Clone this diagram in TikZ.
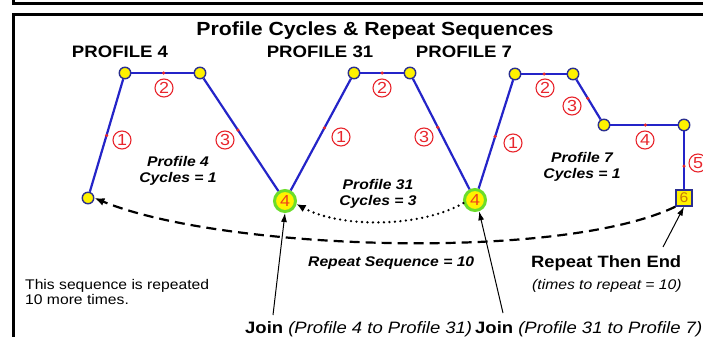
\documentclass[tikz,border=0pt]{standalone}
\usepackage{fontspec}
\setmainfont[FakeStretch=1.12]{Liberation Sans}
\usetikzlibrary{arrows.meta}
\definecolor{lineblue}{HTML}{2424C8}
\definecolor{rimblue}{HTML}{2B2F8F}
\definecolor{dotyellow}{HTML}{FFF200}
\definecolor{numred}{HTML}{E8262D}
\definecolor{ringgreen}{HTML}{6BDD2A}
\definecolor{fourred}{HTML}{F0401A}
\definecolor{sixorange}{HTML}{C8780A}
\newcommand{\fs}[2]{\fontsize{#1}{#2}\selectfont}

\begin{document}
\begin{tikzpicture}[x=1pt,y=-1pt]
                        \tikzstyle{boxline}=[line width=3pt]
                        \tikzstyle{hdr}=[font=\bfseries\fs{16.6}{19},inner sep=0pt]
                        \tikzstyle{ydot}=[circle,draw=rimblue,fill=dotyellow,line width=1.4pt,minimum size=11.5pt,inner sep=0pt]
                        \tikzstyle{joinnode}=[circle,draw=ringgreen,fill=dotyellow,line width=3pt,minimum size=21pt,inner sep=0pt,text=fourred,font=\fs{16}{18}]
                        \tikzstyle{endbox}=[rectangle,draw=rimblue,fill=dotyellow,line width=1.4pt,minimum size=16pt,inner sep=0pt,text=sixorange,font=\fs{14}{16}]
                        \tikzstyle{seg}=[draw=lineblue,line width=2.2pt]
                        \tikzstyle{cnum}=[circle,draw=numred,line width=1.1pt,text=numred,minimum size=18pt,inner sep=0pt,font=\fs{16}{18}]
                        \tikzstyle{redtick}=[circle,fill=numred,minimum size=3.5pt,inner sep=0pt]
                        \tikzstyle{cyc}=[align=center,font=\bfseries\itshape\fs{14}{16},inner sep=0pt]
                        \tikzstyle{ptr}=[line width=1pt,-{Latex[length=9pt,width=6pt]}]
                        \useasboundingbox (0,0) rectangle (703,337);
                        \draw[boxline] (703,4) -- (13.5,4) -- (13.5,0);
                        \draw[boxline] (703,15) -- (13.5,15) -- (13.5,337);
                        \node[hdr,font=\bfseries\fs{19}{22},anchor=base] (title) at (375,36) {Profile Cycles \& Repeat Sequences};
                        \node[hdr,anchor=base] (h4) at (120,57) {PROFILE 4};
                        \node[hdr,anchor=base] (h31) at (320,57) {PROFILE 31};
                        \node[hdr,anchor=base] (h7) at (464,57) {PROFILE 7};
                        \node[ydot] (a0) at (88,198) {};
                        \node[ydot] (a1) at (125,73) {};
                        \node[ydot] (a2) at (200,73) {};
                        \node[joinnode] (j1) at (285,201) {4};
                        \node[ydot] (b1) at (354,73) {};
                        \node[ydot] (b2) at (410,73) {};
                        \node[joinnode] (j2) at (475,200) {4};
                        \node[ydot] (c1) at (515,74) {};
                        \node[ydot] (c2) at (573,74) {};
                        \node[ydot] (c3) at (604,125) {};
                        \node[ydot] (c4) at (684,125) {};
                        \node[endbox] (e6) at (684,198) {6};
                        \draw[seg] (a0) -- node[redtick,pos=.5] {} (a1);
                        \draw[seg] (a1) -- node[redtick,pos=.52] {} (a2);
                        \draw[seg] (a2) -- node[redtick,pos=.46] {} (j1);
                        \draw[seg] (j1) -- node[redtick,pos=.56] {} (b1);
                        \draw[seg] (b1) -- node[redtick,pos=.5] {} (b2);
                        \draw[seg] (b2) -- node[redtick,pos=.44] {} (j2);
                        \draw[seg] (j2) -- node[redtick,pos=.48] {} (c1);
                        \draw[seg] (c1) -- node[redtick,pos=.5] {} (c2);
                        \draw[seg] (c2) -- node[redtick,pos=.47] {} (c3);
                        \draw[seg] (c3) -- node[redtick,pos=.52] {} (c4);
                        \draw[seg] (c4) -- node[redtick,pos=.6] {} (e6);
                        \node[cnum] (n41) at (122,140) {1};
                        \node[cnum] (n42) at (164,88) {2};
                        \node[cnum] (n43) at (225,140) {3};
                        \node[cnum] (n311) at (341,137) {1};
                        \node[cnum] (n312) at (382,88) {2};
                        \node[cnum] (n313) at (424,137) {3};
                        \node[cnum] (n71) at (513,143) {1};
                        \node[cnum] (n72) at (545,88) {2};
                        \node[cnum] (n73) at (572,106) {3};
                        \node[cnum] (n74) at (645,140) {4};
                        \node[cnum] (n75) at (698,163) {5};
                        \node[cyc] (cy4) at (178,171) {Profile 4\\Cycles = 1};
                        \node[cyc] (cy31) at (378,194) {Profile 31\\Cycles = 3};
                        \node[cyc] (cy7) at (582,167) {Profile 7\\Cycles = 1};
                        \draw[line width=2.2pt,dash pattern=on 10pt off 6pt,-{Latex[length=10pt,width=8pt]}] (e6.south west) .. controls (560,262) and (220,250) .. (a0.east);
                        \draw[line width=2.6pt,line cap=round,dash pattern=on 0pt off 5.5pt,-{Latex[length=9pt,width=8pt]}] (j2.195) .. controls (420,228) and (340,228) .. (j1.-15);
                        \node[anchor=base west,font=\bfseries\itshape\fs{14}{16},inner sep=0pt] (rs) at (308,266) {Repeat Sequence = 10};
                        \node[anchor=base west,font=\bfseries\fs{16.4}{19},inner sep=0pt] (rte) at (531,267) {Repeat Then End};
                        \node[anchor=base west,font=\itshape\fs{14}{16},inner sep=0pt] (rtn) at (532,289) {(times to repeat = 10)};
                        \node[anchor=west,align=left,font=\fs{14}{15},inner sep=0pt] (note) at (25,292) {This sequence is repeated\\10 more times.};
                        \node[anchor=base west,font=\fs{16.5}{19},inner sep=0pt] (jt1) at (245,333) {\textbf{Join} \textit{(Profile 4 to Profile 31)}};
                        \node[anchor=base west,font=\fs{16.5}{19},inner sep=0pt] (jt2) at (475,333) {\textbf{Join} \textit{(Profile 31 to Profile 7)}};
                        \coordinate (jf1) at (273,315);
                        \coordinate (jf2) at (503,313);
                        \coordinate (rf) at (663,247);
                        \draw[ptr] (jf1) -- (j1.south);
                        \draw[ptr] (jf2) -- (j2.-70);
                        \draw[ptr] (rf) -- (e6.south);
                    \end{tikzpicture}
\end{document}
